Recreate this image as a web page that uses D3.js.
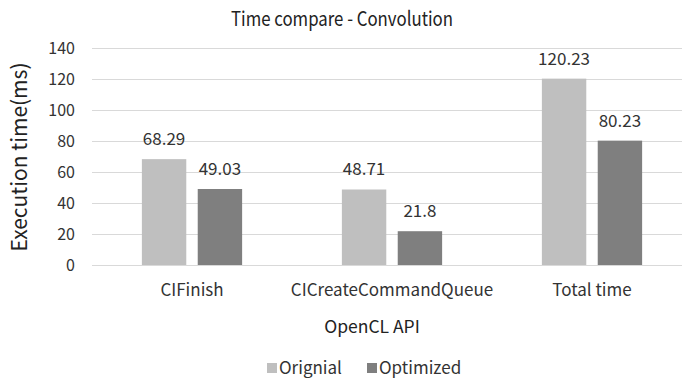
<!DOCTYPE html>
<html><head><meta charset="utf-8">
<script src="https://cdn.jsdelivr.net/npm/d3@7"></script>
<style>body{margin:0;background:#fff}svg{display:block}</style>
</head><body>
<script>
const categories = ["CIFinish", "CICreateCommandQueue", "Total time"];
const seriesNames = ["Orignial", "Optimized"];
const original = [68.29, 48.71, 120.23];
const optimized = [49.03, 21.8, 80.23];
const yTicks = [0, 20, 40, 60, 80, 100, 120, 140];
const colors = ["#bfbfbf", "#7f7f7f"];

const W = 682, H = 378;
const font = "'Noto Sans CJK KR', 'Noto Sans', sans-serif";
const svg = d3.select("body").append("svg").attr("width", W).attr("height", H)
  .style("font-family", font);

const m = {left: 92, right: 692, top: 48, bottom: 265};
const x = d3.scaleBand().domain(categories).range([m.left, m.right]);
const xs = d3.scaleBand().domain(seriesNames).range([0, x.bandwidth()]).paddingInner(0.205).paddingOuter(0.893);
const y = d3.scaleLinear().domain([0, 140]).range([m.bottom, m.top]);

// grid
svg.append("g").selectAll("line").data(yTicks).join("line")
  .attr("x1", m.left).attr("x2", W).attr("y1", d => y(d) + 0.5).attr("y2", d => y(d) + 0.5)
  .attr("stroke", "#d9d9d9").attr("stroke-width", 1);

// y axis
const ya = svg.append("g").attr("transform", `translate(${m.left},0)`)
  .call(d3.axisLeft(y).tickValues(yTicks).tickSize(0).tickPadding(17));
ya.select(".domain").remove();
ya.selectAll("text").attr("font-size", 16).attr("fill", "#333").style("font-family", font);

// x axis
const xa = svg.append("g").attr("transform", `translate(0,${m.bottom})`)
  .call(d3.axisBottom(x).tickSize(0).tickPadding(19));
xa.select(".domain").remove();
xa.selectAll("text").attr("font-size", 17).attr("fill", "#333").style("font-family", font);

const data = categories.map((c, i) => ({c, vals: [original[i], optimized[i]]}));
const groups = svg.append("g").selectAll("g").data(data).join("g")
  .attr("transform", d => `translate(${x(d.c)},0)`);
groups.selectAll("rect").data(d => d.vals.map((v, j) => ({v, s: seriesNames[j], j})))
  .join("rect")
  .attr("x", d => xs(d.s)).attr("width", xs.bandwidth())
  .attr("y", d => y(d.v)).attr("height", d => y(0) - y(d.v))
  .attr("fill", d => colors[d.j]);
groups.selectAll("text").data(d => d.vals.map((v, j) => ({v, s: seriesNames[j]})))
  .join("text")
  .attr("x", d => xs(d.s) + xs.bandwidth() / 2).attr("y", d => y(d.v) - 14)
  .attr("text-anchor", "middle").attr("font-size", 17).attr("fill", "#333")
  .text(d => d.v);

// title
svg.append("text").attr("x", 342).attr("y", 26).attr("text-anchor", "middle")
  .attr("font-size", 20).attr("textLength", 222).attr("lengthAdjust", "spacingAndGlyphs")
  .attr("fill", "#222").text("Time compare - Convolution");
// y title
svg.append("text").attr("transform", "translate(27,157) rotate(-90)").attr("text-anchor", "middle")
  .attr("font-size", 21).attr("fill", "#222").text("Execution time(ms)");
// x title
svg.append("text").attr("x", 372).attr("y", 333).attr("text-anchor", "middle")
  .attr("font-size", 17.5).attr("fill", "#222").text("OpenCL API");

// legend
const leg = svg.append("g");
const legItems = [{n: seriesNames[0], x: 267}, {n: seriesNames[1], x: 367}];
legItems.forEach((it, i) => {
  leg.append("rect").attr("x", it.x).attr("y", 363).attr("width", 10).attr("height", 10).attr("fill", colors[i]);
  leg.append("text").attr("x", it.x + 12).attr("y", 374).attr("font-size", 17).attr("fill", "#333").text(it.n);
});
</script>
</body></html>
